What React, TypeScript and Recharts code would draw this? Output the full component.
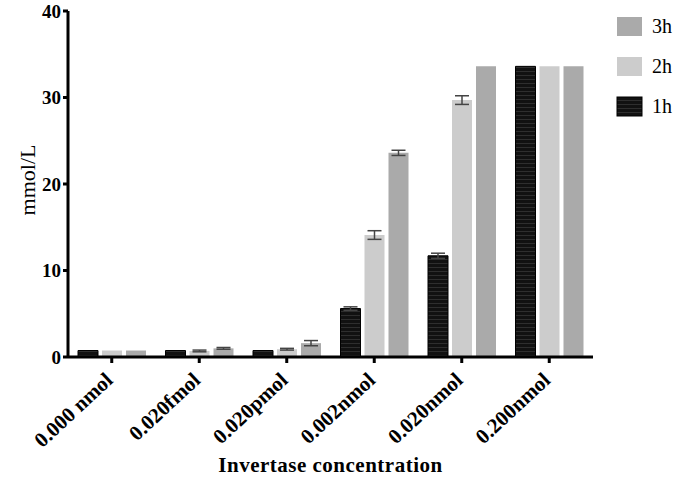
import React from 'react';
import { BarChart, Bar, XAxis, YAxis, ErrorBar, Legend } from 'recharts';

const categories = ['0.000 nmol', '0.020fmol', '0.020pmol', '0.002nmol', '0.020nmol', '0.200nmol'];
const h1 = [0.75, 0.75, 0.75, 5.6, 11.7, 33.6];
const h2 = [0.75, 0.7, 0.9, 14.1, 29.7, 33.6];
const h3 = [0.75, 1.0, 1.6, 23.6, 33.6, 33.6];
const e1 = [0, 0, 0, 0.2, 0.3, 0];
const e2 = [0, 0.1, 0.1, 0.5, 0.5, 0];
const e3 = [0, 0.1, 0.3, 0.3, 0, 0];
const yTicks = [0, 10, 20, 30, 40];

const data = categories.map((c, i) => ({
  name: c,
  h1: h1[i],
  h2: h2[i],
  h3: h3[i],
  e1: e1[i],
  e2: e2[i],
  e3: e3[i],
}));

const FONT = '"Liberation Serif", "Times New Roman", serif';

const XTick = (props: any) => {
  const { x, y, payload } = props;
  return (
    <g transform={`translate(${x - 6},${y + 8})`}>
      <text
        x={0}
        y={0}
        dy={12}
        textAnchor="end"
        transform="rotate(-43)"
        fontFamily={FONT}
        fontWeight="bold"
        fontSize={21}
        fill="#000"
      >
        {payload.value}
      </text>
    </g>
  );
};

const legendItems = [
  { label: '3h', color: '#aaaaaa' },
  { label: '2h', color: '#cccccc' },
  { label: '1h', color: 'url(#stripes)' },
];

const LegendContent = () => (
  <svg width={65} height={130} style={{ display: 'block' }}>
    <defs>
      <pattern id="stripesL" width="4" height="4" patternUnits="userSpaceOnUse">
        <rect width="4" height="4" fill="#111111" />
        <rect y="3" width="4" height="1" fill="#2e2e2e" />
      </pattern>
    </defs>
    {legendItems.map((it, i) => (
      <g key={it.label} transform={`translate(1,${17 + i * 40})`}>
        <rect
          x={0}
          y={0}
          width={25}
          height={19}
          fill={i === 2 ? 'url(#stripesL)' : it.color}
          stroke={i === 2 ? '#000' : 'none'}
        />
        <text x={35} y={16} fontFamily={FONT} fontSize={20} fill="#000">
          {it.label}
        </text>
      </g>
    ))}
  </svg>
);

export default function App() {
  return (
    <div style={{ position: 'absolute', left: 0, top: 0 }}>
      <BarChart
        width={675}
        height={478}
        data={data}
        margin={{ top: 11, right: 82, bottom: 21, left: 0 }}
        barSize={20}
        barGap={4}
      >
        <defs>
          <pattern id="stripes" width="4" height="4" patternUnits="userSpaceOnUse">
            <rect width="4" height="4" fill="#111111" />
            <rect y="3" width="4" height="1" fill="#2e2e2e" />
          </pattern>
        </defs>
        <XAxis
          dataKey="name"
          height={100}
          tick={<XTick />}
          interval={0}
          axisLine={{ stroke: '#000', strokeWidth: 3 }}
          tickLine={{ stroke: '#000', strokeWidth: 3 }}
          tickSize={6}
          label={{
            value: 'Invertase concentration',
            position: 'insideBottom',
            offset: -15,
            fontFamily: FONT,
            fontWeight: 'bold',
            fontSize: 21,
            fill: '#000',
            letterSpacing: 0.5,
          }}
        />
        <YAxis
          width={68}
          domain={[0, 40]}
          ticks={yTicks}
          interval={0}
          axisLine={{ stroke: '#000', strokeWidth: 3 }}
          tickLine={{ stroke: '#000', strokeWidth: 3 }}
          tickSize={5}
          tick={{ fontFamily: FONT, fontWeight: 'bold', fontSize: 19, fill: '#000' }}
          label={{
            content: (p: any) => {
              const vb = p.viewBox;
              const cx = 27;
              const cy = vb.y + vb.height / 2 - 4;
              return (
                <text
                  x={cx}
                  y={cy}
                  transform={`rotate(-90, ${cx}, ${cy})`}
                  textAnchor="middle"
                  dominantBaseline="central"
                  fontFamily={FONT}
                  fontSize={22}
                  fill="#000"
                >
                  mmol/L
                </text>
              );
            },
          }}
        />
        <Legend
          verticalAlign="middle"
          align="center"
          layout="vertical"
          content={<LegendContent />}
          wrapperStyle={{ position: 'absolute', left: 616, top: 0, width: 65, height: 130 }}
        />
        <Bar dataKey="h1" fill="url(#stripes)" stroke="#000" strokeWidth={1} isAnimationActive={false}>
          <ErrorBar dataKey="e1" width={7} stroke="#444" strokeWidth={1.5} />
        </Bar>
        <Bar dataKey="h2" fill="#cccccc" isAnimationActive={false}>
          <ErrorBar dataKey="e2" width={7} stroke="#444" strokeWidth={1.5} />
        </Bar>
        <Bar dataKey="h3" fill="#aaaaaa" isAnimationActive={false}>
          <ErrorBar dataKey="e3" width={7} stroke="#444" strokeWidth={1.5} />
        </Bar>
      </BarChart>
    </div>
  );
}
